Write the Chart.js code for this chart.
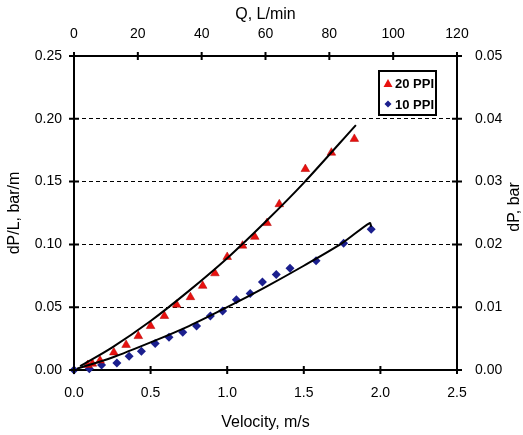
<!DOCTYPE html>
<html>
<head>
<meta charset="utf-8">
<script src="https://cdn.jsdelivr.net/npm/chart.js@4/dist/chart.umd.min.js"></script>
<style>
  body { margin: 0; background: #fff; }
  canvas { display: block; }
</style>
</head>
<body>
<canvas id="chart" width="523" height="435"></canvas>
<script>
// DATA
let seriesNames = ["20 PPI", "10 PPI"];

let vel20 = [0.09, 0.12, 0.17, 0.26, 0.34, 0.42, 0.50, 0.59, 0.67, 0.76, 0.84, 0.92, 1.00, 1.10, 1.18, 1.26, 1.34, 1.51, 1.68, 1.83];
let dpl20 = [0.004, 0.005, 0.0075, 0.014, 0.020, 0.027, 0.035, 0.043, 0.052, 0.058, 0.067, 0.077, 0.090, 0.099, 0.106, 0.117, 0.132, 0.160, 0.173, 0.184];

let vel10 = [0, 0.10, 0.18, 0.28, 0.36, 0.44, 0.53, 0.62, 0.71, 0.80, 0.89, 0.97, 1.06, 1.15, 1.23, 1.32, 1.41, 1.58, 1.76, 1.94];
let dpl10 = [0, 0.001, 0.004, 0.0055, 0.011, 0.015, 0.021, 0.026, 0.030, 0.035, 0.043, 0.047, 0.056, 0.061, 0.070, 0.076, 0.081, 0.087, 0.101, 0.112];

// trend lines
let fitVel20 = [0.04, 0.25, 0.5, 0.75, 1.0, 1.25, 1.5, 1.84];
let fitDpl20 = [0.003, 0.018, 0.039, 0.063, 0.089, 0.118, 0.149, 0.195];
let fitVel10 = [0.02, 0.25, 0.5, 0.75, 1.0, 1.25, 1.5, 1.75, 1.93, 1.94];
let fitDpl10 = [0.001, 0.010, 0.022, 0.035, 0.050, 0.066, 0.083, 0.101, 0.117, 0.114];

// AXES
let velTicks = [0, 0.5, 1.0, 1.5, 2.0, 2.5];
let qTicks = [0, 20, 40, 60, 80, 100, 120];
let dplTicks = [0, 0.05, 0.10, 0.15, 0.20, 0.25];
let dpTicks = [0, 0.01, 0.02, 0.03, 0.04, 0.05];

function pts(xs, ys) {
  return xs.map((x, i) => ({ x: x, y: ys[i] }));
}

const FONT = "'Liberation Sans', Arial, sans-serif";
const RED = "#e8110f";
const BLUE = "#1b1f8e";

// tick marks crossing the axis lines
const tickMarks = {
  id: "tickMarks",
  afterDraw(chart) {
    let ctx = chart.ctx;
    let a = chart.chartArea;
    ctx.save();
    ctx.strokeStyle = "#000";
    ctx.lineWidth = 2;
    ctx.beginPath();
    ["x", "x2"].forEach(id => {
      let s = chart.scales[id];
      let yy = id === "x" ? a.bottom : a.top;
      s.ticks.forEach(t => {
        let p = s.getPixelForValue(t.value);
        ctx.moveTo(p, yy - 4);
        ctx.lineTo(p, yy + 4);
      });
    });
    ["y", "y2"].forEach(id => {
      let s = chart.scales[id];
      let xx = id === "y" ? a.left : a.right;
      s.ticks.forEach(t => {
        let p = s.getPixelForValue(t.value);
        ctx.moveTo(xx - 5, p);
        ctx.lineTo(xx + 5, p);
      });
    });
    ctx.stroke();

    // right axis title, reading bottom to top
    ctx.fillStyle = "#000";
    ctx.font = "16px " + FONT;
    ctx.textAlign = "center";
    ctx.textBaseline = "middle";
    ctx.translate(515, 207);
    ctx.rotate(-Math.PI / 2);
    ctx.fillText("dP, bar", 0, 0);
    ctx.restore();
  }
};

// LEGEND (inside the plot, top right)
const boxLegend = {
  id: "boxLegend",
  afterDraw(chart) {
    let ctx = chart.ctx;
    let bx = 379, by = 71, bw = 57, bh = 44;
    ctx.save();
    ctx.fillStyle = "#fff";
    ctx.fillRect(bx, by, bw, bh);
    ctx.strokeStyle = "#000";
    ctx.lineWidth = 2;
    ctx.strokeRect(bx, by, bw, bh);

    // triangle
    ctx.fillStyle = RED;
    ctx.beginPath();
    ctx.moveTo(388, 79);
    ctx.lineTo(392.5, 87);
    ctx.lineTo(383.5, 87);
    ctx.closePath();
    ctx.fill();
    // diamond
    ctx.fillStyle = BLUE;
    ctx.beginPath();
    ctx.moveTo(388, 100.5);
    ctx.lineTo(391.5, 104);
    ctx.lineTo(388, 107.5);
    ctx.lineTo(384.5, 104);
    ctx.closePath();
    ctx.fill();

    ctx.fillStyle = "#000";
    ctx.font = "bold 13px " + FONT;
    ctx.textAlign = "left";
    ctx.textBaseline = "middle";
    ctx.fillText(seriesNames[0], 395, 84);
    ctx.fillText(seriesNames[1], 395, 105);
    ctx.restore();
  }
};

function tickFont() {
  return { family: FONT, size: 14 };
}
function titleFont() {
  return { family: FONT, size: 16 };
}

new Chart(document.getElementById("chart"), {
  type: "scatter",
  data: {
    datasets: [
      {
        label: "fit 20",
        data: pts(fitVel20, fitDpl20),
        showLine: true,
        tension: 0.3,
        borderColor: "#000",
        borderWidth: 2,
        pointRadius: 0,
        xAxisID: "x",
        yAxisID: "y"
      },
      {
        label: "fit 10",
        data: pts(fitVel10, fitDpl10),
        showLine: true,
        tension: 0.3,
        borderColor: "#000",
        borderWidth: 2,
        pointRadius: 0,
        xAxisID: "x",
        yAxisID: "y"
      },
      {
        label: seriesNames[0],
        data: pts(vel20, dpl20),
        pointStyle: "triangle",
        pointRadius: 5,
        backgroundColor: RED,
        borderColor: "#b00000",
        borderWidth: 0.5,
        clip: false,
        xAxisID: "x",
        yAxisID: "y"
      },
      {
        label: seriesNames[1],
        data: pts(vel10, dpl10),
        pointStyle: "rectRot",
        pointRadius: 4.5,
        backgroundColor: BLUE,
        borderColor: BLUE,
        borderWidth: 0,
        clip: false,
        xAxisID: "x",
        yAxisID: "y"
      }
    ]
  },
  options: {
    responsive: false,
    animation: false,
    layout: { padding: 0 },
    plugins: {
      legend: { display: false },
      tooltip: { enabled: false }
    },
    scales: {
      x: {
        type: "linear",
        position: "bottom",
        min: velTicks[0],
        max: velTicks[velTicks.length - 1],
        afterBuildTicks: s => { s.ticks = velTicks.map(v => ({ value: v })); },
        ticks: { padding: 15, color: "#000", font: tickFont(), callback: v => Number(v).toFixed(1) },
        grid: { display: false, drawTicks: false },
        border: { color: "#000", width: 2 },
        title: { display: true, text: "Velocity, m/s", color: "#000", font: titleFont(), padding: { top: 0, bottom: 3 } },
        afterFit: s => { s.height = 65; }
      },
      x2: {
        type: "linear",
        position: "top",
        min: qTicks[0],
        max: qTicks[qTicks.length - 1],
        afterBuildTicks: s => { s.ticks = qTicks.map(v => ({ value: v })); },
        ticks: { padding: 13, color: "#000", font: tickFont(), callback: v => String(v) },
        grid: { display: false, drawTicks: false },
        border: { color: "#000", width: 2 },
        title: { display: true, text: "Q, L/min", color: "#000", font: titleFont(), padding: { top: 5, bottom: 0 } },
        afterFit: s => { s.height = 56; }
      },
      y: {
        type: "linear",
        position: "left",
        min: dplTicks[0],
        max: dplTicks[dplTicks.length - 1],
        afterBuildTicks: s => { s.ticks = dplTicks.map(v => ({ value: v })); },
        ticks: { padding: 12, color: "#000", font: tickFont(), callback: v => Number(v).toFixed(2) },
        grid: {
          drawTicks: false,
          lineWidth: 1,
          color: c => (c.tick && c.tick.value > 0 && c.tick.value < 0.25) ? "#000" : "rgba(0,0,0,0)"
        },
        border: { color: "#000", width: 2, dash: [4, 3] },
        title: { display: true, text: "dP/L, bar/m", color: "#000", font: titleFont(), padding: { top: 5, bottom: 0 } },
        afterFit: s => { s.width = 74; }
      },
      y2: {
        type: "linear",
        position: "right",
        min: dpTicks[0],
        max: dpTicks[dpTicks.length - 1],
        afterBuildTicks: s => { s.ticks = dpTicks.map(v => ({ value: v })); },
        ticks: { padding: 18, color: "#000", font: tickFont(), callback: v => Number(v).toFixed(2) },
        grid: { display: false, drawTicks: false },
        border: { color: "#000", width: 2 },
        afterFit: s => { s.width = 66; }
      }
    }
  },
  plugins: [tickMarks, boxLegend]
});
</script>
</body>
</html>
